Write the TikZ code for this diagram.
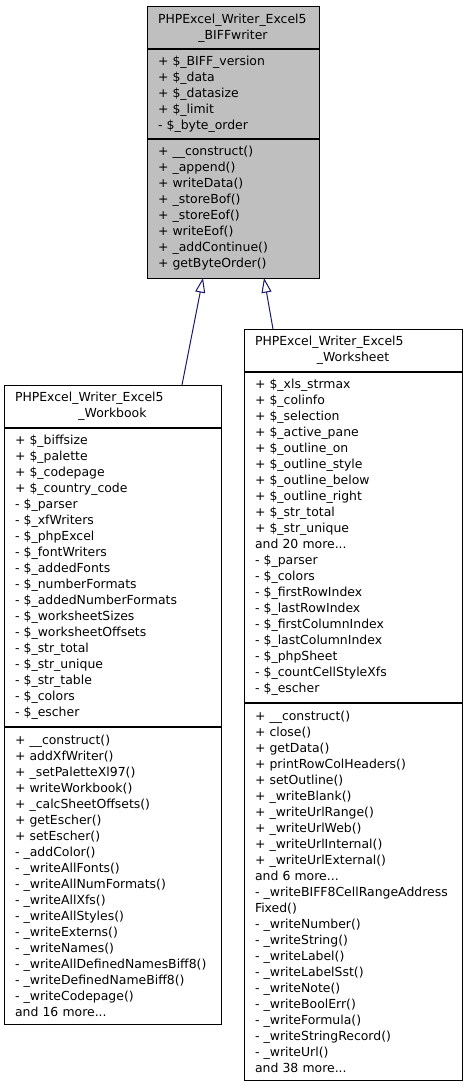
\documentclass[tikz,border=0pt]{standalone}
\usepackage{fontspec}
\setmainfont{DejaVu Sans}
\usetikzlibrary{positioning,calc,arrows.meta}
\definecolor{basegray}{HTML}{BFBFBF}
\definecolor{inhblue}{HTML}{191970}
\hyphenpenalty=10000
\exhyphenpenalty=10000

\begin{document}
\begin{tikzpicture}[x=.75pt, y=-.75pt, >={Triangle[open, length=11pt, width=7.5pt]},
    part/.style={draw, line width=.75pt, anchor=north west, outer sep=0pt, inner xsep=8.25pt, inner ysep=0pt, font=\fontsize{9.33}{12}\selectfont},
    classname/.style={part, align=left},
    members/.style={part, align=left}]
\useasboundingbox (0,0) rectangle (467,1088);

\node[classname, fill=basegray, text width=112.5pt, minimum height=31.5pt] (biffname) at (147,7)
    {PHPExcel\_Writer\_Excel5\\\makebox[\linewidth][c]{\_BIFFwriter}};
\node[members, fill=basegray, text width=112.5pt, minimum height=67.5pt, below=0pt of biffname] (biffattr)
    {+ \$\_BIFF\_version\\+ \$\_data\\+ \$\_datasize\\+ \$\_limit\\- \$\_byte\_order};
\node[members, fill=basegray, text width=112.5pt, minimum height=104.25pt, below=0pt of biffattr] (biffmeth)
    {+ \_\_construct()\\+ \_append()\\+ writeData()\\+ \_storeBof()\\+ \_storeEof()\\+ writeEof()\\+ \_addContinue()\\+ getByteOrder()};

\node[classname, text width=146.25pt, minimum height=32.25pt] (wbname) at (4,385)
    {PHPExcel\_Writer\_Excel5\\\makebox[\linewidth][c]{\_Workbook}};
\node[members, text width=146.25pt, minimum height=224.25pt, below=0pt of wbname] (wbattr)
    {+ \$\_biffsize\\+ \$\_palette\\+ \$\_codepage\\+ \$\_country\_code\\- \$\_parser\\- \$\_xfWriters\\- \$\_phpExcel\\- \$\_fontWriters\\- \$\_addedFonts\\- \$\_numberFormats\\-~\$\_addedNumberFormats\\- \$\_worksheetSizes\\- \$\_worksheetOffsets\\- \$\_str\_total\\- \$\_str\_unique\\- \$\_str\_table\\- \$\_colors\\- \$\_escher};
\node[members, text width=146.25pt, minimum height=222.75pt, below=0pt of wbattr] (wbmeth)
    {+ \_\_construct()\\+ addXfWriter()\\+ \_setPaletteXl97()\\+ writeWorkbook()\\+ \_calcSheetOffsets()\\+ getEscher()\\+ setEscher()\\- \_addColor()\\- \_writeAllFonts()\\- \_writeAllNumFormats()\\- \_writeAllXfs()\\- \_writeAllStyles()\\- \_writeExterns()\\- \_writeNames()\\-~\_writeAllDefinedNamesBiff8()\\-~\_writeDefinedNameBiff8()\\- \_writeCodepage()\\and 16 more...};

\node[classname, text width=147pt, minimum height=32.25pt] (wsname) at (244,329)
    {PHPExcel\_Writer\_Excel5\\\makebox[\linewidth][c]{\_Worksheet}};
\node[members, text width=147pt, minimum height=248.25pt, below=0pt of wsname] (wsattr)
    {+ \$\_xls\_strmax\\+ \$\_colinfo\\+ \$\_selection\\+ \$\_active\_pane\\+ \$\_outline\_on\\+ \$\_outline\_style\\+ \$\_outline\_below\\+ \$\_outline\_right\\+ \$\_str\_total\\+ \$\_str\_unique\\and 20 more...\\- \$\_parser\\- \$\_colors\\- \$\_firstRowIndex\\- \$\_lastRowIndex\\- \$\_firstColumnIndex\\- \$\_lastColumnIndex\\- \$\_phpSheet\\- \$\_countCellStyleXfs\\- \$\_escher};
\node[members, text width=147pt, minimum height=282.75pt, below=0pt of wsattr] (wsmeth)
    {+ \_\_construct()\\+ close()\\+ getData()\\+ printRowColHeaders()\\+ setOutline()\\+ \_writeBlank()\\+ \_writeUrlRange()\\+ \_writeUrlWeb()\\+ \_writeUrlInternal()\\+ \_writeUrlExternal()\\and 6 more...\\-~\_writeBIFF8CellRangeAddress\\Fixed()\\- \_writeNumber()\\- \_writeString()\\- \_writeLabel()\\- \_writeLabelSst()\\- \_writeNote()\\- \_writeBoolErr()\\- \_writeFormula()\\- \_writeStringRecord()\\- \_writeUrl()\\and 38 more...};

\foreach \p in {biffattr,biffmeth,wbattr,wbmeth,wsattr,wsmeth}
{
    \draw[line width=1.5pt] (\p.north west)--(\p.north east);
}

\draw[->, inhblue, line width=.75pt] ($(wbname.north west)+(178,0)$) -- ($(biffmeth.south west)+(56,0)$);
\draw[->, inhblue, line width=.75pt] ($(wsname.north west)+(29,0)$) -- ($(biffmeth.south west)+(117,0)$);
\end{tikzpicture}
\end{document}
